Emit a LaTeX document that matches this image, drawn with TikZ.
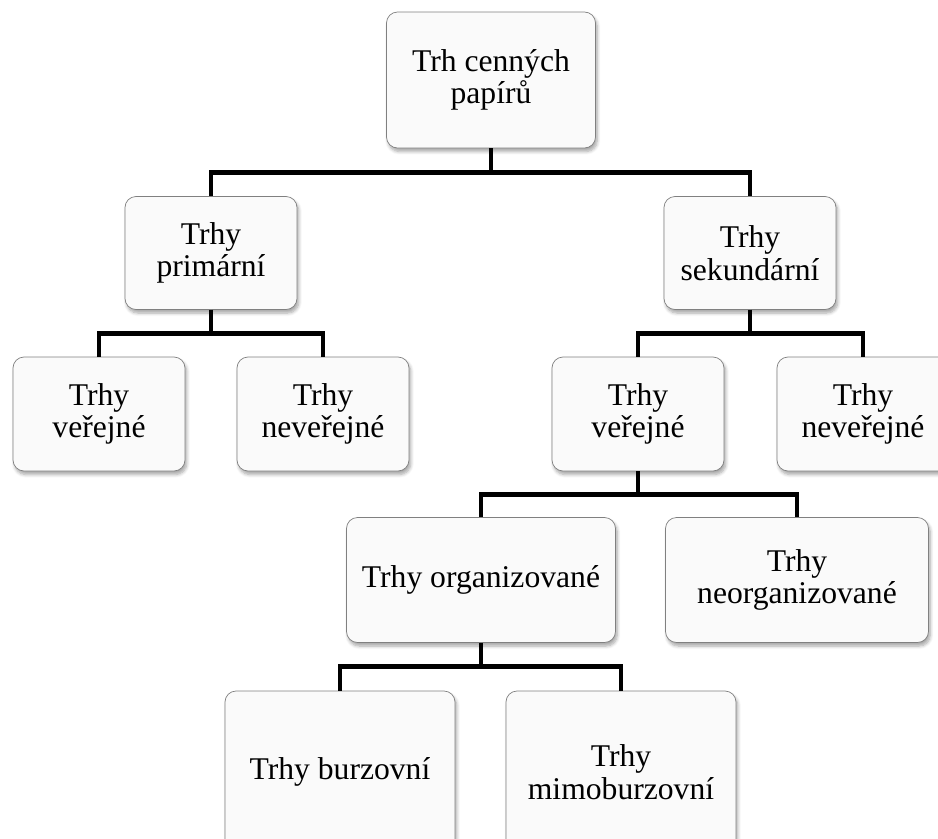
\documentclass[tikz,border=0pt]{standalone}
\usepackage{fontspec}
\setmainfont{Liberation Serif}
\usetikzlibrary{calc,shadows.blur}

\tikzset{
  box/.style={draw=black!50, fill=black!2, rounded corners=0.22cm, align=center,
    font=\fontsize{18}{18.5}\selectfont, inner sep=2pt,
    blur shadow={shadow xshift=1pt, shadow yshift=-2pt, shadow blur steps=6, shadow opacity=35}},
  branch/.style={line width=2.8pt, to path={(\tikztostart) |- ($(\tikztostart)!0.5!(\tikztotarget)$) -| (\tikztotarget)}}
}

\begin{document}
\begin{tikzpicture}[x=0.02cm, y=0.02cm]
            \clip (0,0) rectangle (938,-839);

            \node[box, minimum width=209*0.02cm, minimum height=136*0.02cm] (trh)  at (491, -80) {Trh cenných\\papírů};

            \node[box, minimum width=172*0.02cm, minimum height=113*0.02cm] (prim) at (211, -253) {Trhy\\primární};
            \node[box, minimum width=172*0.02cm, minimum height=113*0.02cm] (sek)  at (750, -253) {Trhy\\sekundární};

            \node[box, minimum width=172*0.02cm, minimum height=114*0.02cm] (pver)  at (99, -414)  {Trhy\\veřejné};
            \node[box, minimum width=172*0.02cm, minimum height=114*0.02cm] (pnever) at (323, -414) {Trhy\\neveřejné};
            \node[box, minimum width=172*0.02cm, minimum height=114*0.02cm] (sver)  at (638, -414) {Trhy\\veřejné};
            \node[box, minimum width=172*0.02cm, minimum height=114*0.02cm] (snever) at (863, -414) {Trhy\\neveřejné};

            \node[box, minimum width=269*0.02cm, minimum height=125*0.02cm] (org)   at (481, -580) {Trhy organizované};
            \node[box, minimum width=263*0.02cm, minimum height=125*0.02cm] (neorg) at (797, -580) {Trhy\\neorganizované};

            \node[box, minimum width=230*0.02cm, minimum height=162*0.02cm] (burz)  at (340, -772) {Trhy burzovní};
            \node[box, minimum width=230*0.02cm, minimum height=162*0.02cm] (mimo)  at (621, -772) {Trhy\\mimoburzovní};

            \draw[branch] (trh.south) to (prim.north);
            \draw[branch] (trh.south) to (sek.north);
            \draw[branch] (prim.south) to (pver.north);
            \draw[branch] (prim.south) to (pnever.north);
            \draw[branch] (sek.south) to (sver.north);
            \draw[branch] (sek.south) to (snever.north);
            \draw[branch] (sver.south) to (org.north);
            \draw[branch] (sver.south) to (neorg.north);
            \draw[branch] (org.south) to (burz.north);
            \draw[branch] (org.south) to (mimo.north);
        \end{tikzpicture}
\end{document}
